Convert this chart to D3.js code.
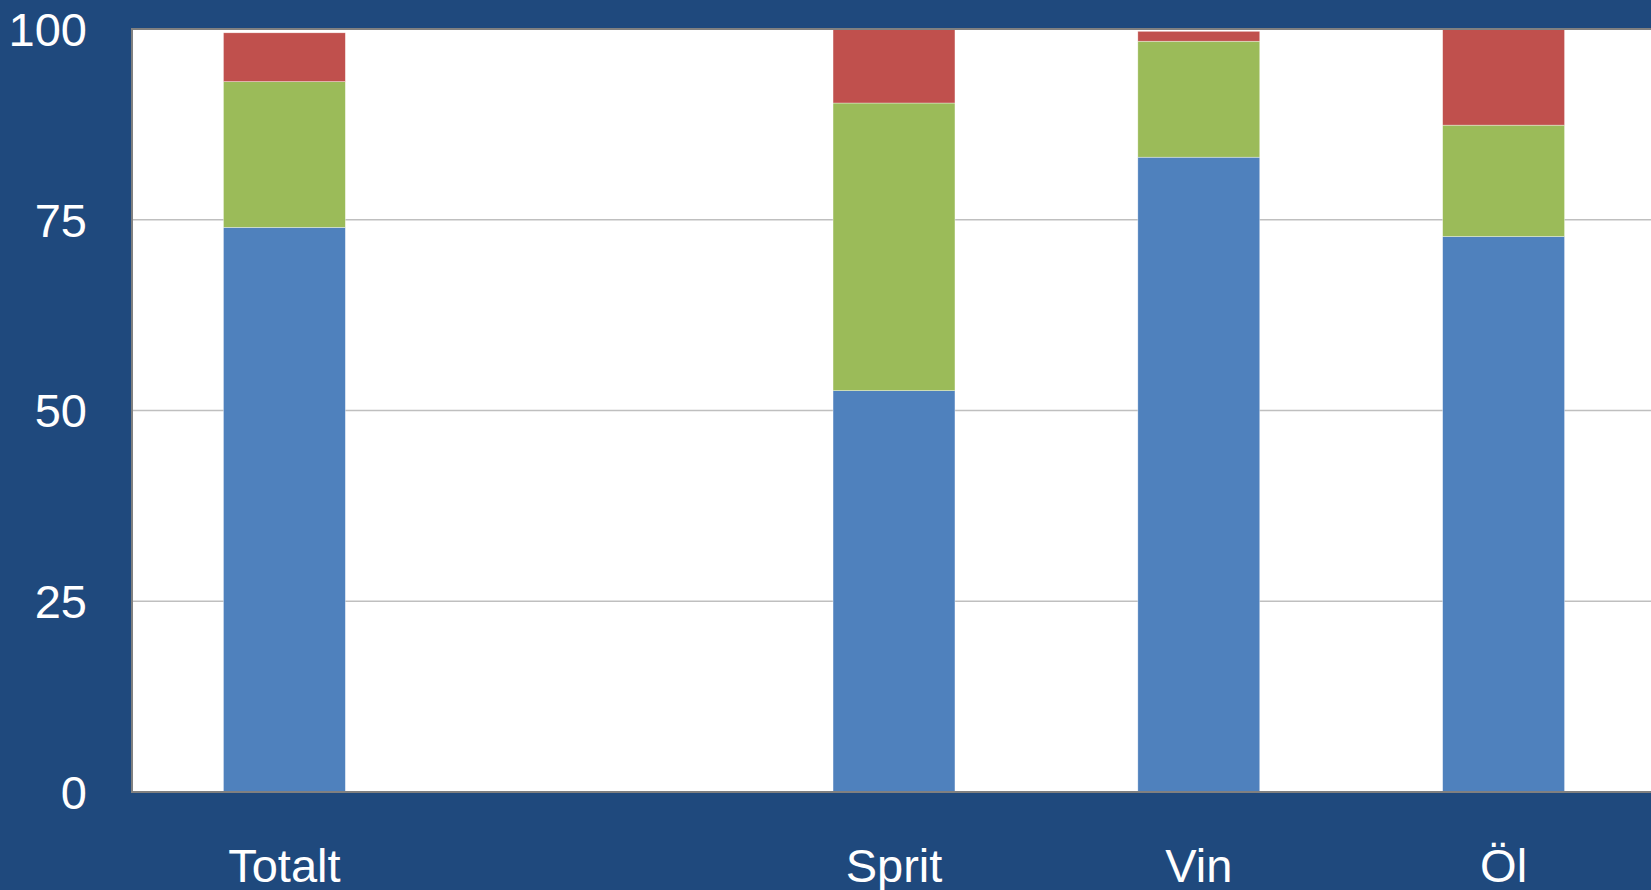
<!DOCTYPE html>
<html>
<head>
<meta charset="utf-8">
<script src="https://cdn.jsdelivr.net/npm/d3@7"></script>
<style>
body { margin: 0; background: #1f497d; overflow: hidden; }
svg { display: block; }
</style>
</head>
<body>
<svg width="1651" height="890"></svg>
<script>
let width = 1651, height = 890;
let margin = { left: 132, top: 29, right: -5, bottom: 98 };

// categories (the empty one is a spacer column in the original)
let categories = ['Totalt', '', 'Sprit', 'Vin', 'Öl'];
let seriesNames = ['a', 'b', 'c'];
let blueValues = [74.0, 0, 52.6, 83.2, 72.8];
let greenValues = [19.1, 0, 37.7, 15.2, 14.6];
let redValues = [6.4, 0, 9.7, 1.3, 12.6];
let colors = ['#4f81bd', '#9bbb59', '#c0504d'];
let yTicks = [0, 25, 50, 75, 100];

var svg = d3.select('svg');

let rows = categories.map(function(c, i) {
	return { cat: c, a: blueValues[i], b: greenValues[i], c: redValues[i] };
});

let x = d3.scaleBand()
	.domain(categories)
	.range([margin.left, width - margin.right])
	.paddingInner(0.6)
	.paddingOuter(0.3);

let y = d3.scaleLinear()
	.domain([0, 100])
	.range([height - margin.bottom, margin.top]);

// plot background
svg.append('rect')
	.attr('x', margin.left)
	.attr('y', margin.top)
	.attr('width', width - margin.right - margin.left)
	.attr('height', y(0) - margin.top)
	.attr('fill', '#ffffff');

// gridlines
svg.append('g')
	.selectAll('line')
	.data(yTicks.filter(function(d) { return d > 0 && d < 100; }))
	.join('line')
		.attr('x1', margin.left)
		.attr('x2', width - margin.right)
		.attr('y1', function(d) { return y(d); })
		.attr('y2', function(d) { return y(d); })
		.attr('stroke', '#bfbfbf')
		.attr('stroke-width', 1.5);

let stacked = d3.stack().keys(seriesNames)(rows);

svg.append('g')
	.selectAll('g')
	.data(stacked)
	.join('g')
		.attr('fill', function(d, i) { return colors[i]; })
	.selectAll('rect')
	.data(function(d) { return d.filter(function(p) { return p.data.cat !== ''; }); })
	.join('rect')
		.attr('x', function(d) { return x(d.data.cat); })
		.attr('width', x.bandwidth())
		.attr('y', function(d) { return y(d[1]); })
		.attr('height', function(d) { return y(d[0]) - y(d[1]); })
		.attr('stroke', '#ffffff')
		.attr('stroke-opacity', 0.6)
		.attr('stroke-width', 0.6);

// plot frame: top, left, bottom
svg.append('path')
	.attr('d', 'M' + (width - margin.right) + ',' + margin.top +
		'H' + margin.left + 'V' + y(0) + 'H' + (width - margin.right))
	.attr('fill', 'none')
	.attr('stroke', '#808080')
	.attr('stroke-width', 2);

// y axis labels
let yAxis = d3.axisLeft(y).tickValues(yTicks).tickSize(0).tickPadding(0);
let yg = svg.append('g')
	.attr('transform', 'translate(87,0)')
	.call(yAxis);
yg.select('.domain').remove();
yg.selectAll('text')
	.attr('fill', '#ffffff')
	.attr('font-family', 'Liberation Sans, Arial, sans-serif')
	.attr('font-size', 47)
	.attr('dy', '0.35em');

// x axis labels
let xAxis = d3.axisBottom(x).tickSize(0).tickPadding(0);
let xg = svg.append('g')
	.attr('transform', 'translate(0,' + y(0) + ')')
	.call(xAxis);
xg.select('.domain').remove();
xg.selectAll('text')
	.attr('fill', '#ffffff')
	.attr('font-family', 'Liberation Sans, Arial, sans-serif')
	.attr('font-size', 47)
	.attr('y', 90)
	.attr('dy', 0);
</script>
</body>
</html>
